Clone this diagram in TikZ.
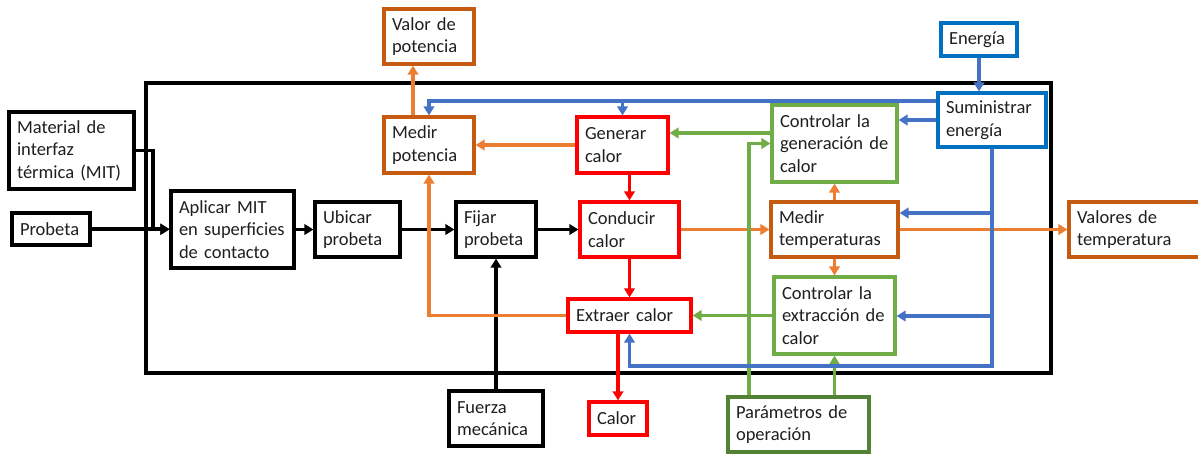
\documentclass[tikz,border=0pt]{standalone}
\usepackage{fontspec}
\setmainfont{Carlito}
\usetikzlibrary{arrows.meta,calc}
\definecolor{cOrL}{HTML}{ED7D31}
\definecolor{cOrB}{HTML}{C55A11}
\definecolor{cGr}{HTML}{70AD47}
\definecolor{cGrD}{HTML}{538135}
\definecolor{cBlL}{HTML}{4472C4}
\definecolor{cBlB}{HTML}{0070C0}
\definecolor{cRd}{HTML}{FF0000}
\tikzset{
  box/.style={draw, line width=3.2pt, fill=white, inner xsep=8pt, inner ysep=0pt,
    align=left, font=\fontsize{18.5}{22.5}\selectfont, text=black!88},
  conn/.style={line width=3.1pt, -{Triangle[length=9pt,width=10.5pt]}},
}
\newcommand{\bx}[6]{%
  \node[box, draw=#2, minimum width=#5, minimum height=#6] (#1) at (#3,#4)}
\begin{document}
\begin{tikzpicture}[x=1pt,y=-1pt]
\useasboundingbox (0,0) rectangle (1198,453);
% frame
\draw[line width=3.6pt] (146,83) rectangle (1051,373);
% nodes
\bx{mit}{black}{71.5}{150.5}{125pt}{77pt}[text width=109pt] {Material de\\interfaz\\térmica (MIT)};
\bx{probeta}{black}{51}{229}{78pt}{32pt}[text width=62pt] {Probeta};
\bx{aplicar}{black}{232.5}{229.5}{123pt}{77pt}[text width=107pt] {Aplicar MIT\\en superficies\\de contacto};
\bx{ubicar}{black}{357.5}{229.5}{85pt}{55pt}[text width=69pt] {Ubicar\\probeta};
\bx{fijar}{black}{496}{229.5}{80pt}{55pt}[text width=64pt] {Fijar\\probeta};
\bx{conducir}{cRd}{629.5}{229.5}{99pt}{55pt}[text width=83pt] {Conducir\\calor};
\bx{medirtemp}{cOrB}{834.5}{229.5}{127pt}{55pt}[text width=111pt] {Medir\\temperaturas};
\bx{valorestemp}{cOrB}{1136}{229.5}{134pt}{55pt}[text width=118pt] {Valores de\\temperatura};
\bx{medirpot}{cOrB}{429}{145}{90pt}{56pt}[text width=74pt] {Medir\\potencia};
\bx{valorpot}{cOrB}{429}{36.5}{90pt}{55pt}[text width=74pt] {Valor de\\potencia};
\bx{generar}{cRd}{622.5}{145}{91pt}{56pt}[text width=75pt] {Generar\\calor};
\bx{ctrlgen}{cGr}{834.5}{143.5}{125pt}{77pt}[text width=109pt] {Controlar la\\generación de\\calor};
\bx{sumin}{cBlB}{992}{120}{108pt}{54pt}[text width=92pt] {Suministrar\\energía};
\bx{energia}{cBlB}{979}{39.5}{76pt}{33pt}[text width=60pt] {Energía};
\bx{extraer}{cRd}{629.5}{315.5}{123pt}{33pt}[text width=107pt] {Extraer calor};
\bx{ctrlext}{cGr}{834.5}{315.5}{121pt}{77pt}[text width=105pt] {Controlar la\\extracción de\\calor};
\bx{calor}{cRd}{618}{418.5}{58pt}{33pt}[text width=42pt] {Calor};
\bx{fuerza}{black}{496}{418.5}{94pt}{55pt}[text width=78pt] {Fuerza\\mecánica};
\bx{param}{cGrD}{798.5}{424.5}{141pt}{55pt}[text width=125pt] {Parámetros de\\operación};
% black connectors
\coordinate (mj) at (153,150.5);
\draw[conn, line width=3.3pt] (mit.east) -- (mj) |- (aplicar.west);
\draw[conn, line width=3.3pt] (probeta.east) -- (probeta.east -| aplicar.west);
\draw[conn, line width=3.3pt] (aplicar.east) -- (ubicar.west);
\draw[conn, line width=3.3pt] (ubicar.east) -- (fijar.west);
\draw[conn, line width=3.3pt] (fijar.east) -- (conducir.west);
\draw[conn, line width=3.3pt] (fuerza.north) -- (fijar.south);
% red
\draw[conn, cRd] (conducir.north |- generar.south) -- (conducir.north);
\draw[conn, cRd] (conducir.south) -- (extraer.north);
\draw[conn, cRd] (calor.north |- extraer.south) -- (calor.north);
% orange
\draw[conn, cOrL] (conducir.east) -- (medirtemp.west);
\draw[conn, cOrL] (medirtemp.east) -- (valorestemp.west);
\draw[conn, cOrL] (medirtemp.north) -- (ctrlgen.south);
\draw[conn, cOrL] (medirtemp.south) -- (ctrlext.north);
\draw[conn, cOrL] (generar.west) -- (medirpot.east);
\draw[conn, cOrL] ([xshift=-16pt]medirpot.north) -- ([xshift=-16pt]valorpot.south);
\draw[conn, cOrL] (extraer.west) -| (medirpot.south);
% green
\draw[conn, cGr] (ctrlext.west) -- (extraer.east);
\draw[conn, cGr] (ctrlgen.west |- 0,133) -- (generar.east |- 0,133);
\draw[conn, cGr] (param.north -| 749,0) |- (ctrlgen.west);
\draw[conn, cGr] (param.north -| ctrlext.south) -- (ctrlext.south);
% blue
\draw[conn, cBlL] (energia.south) -- (energia.south |- sumin.north);
\draw[conn, cBlL] (sumin.west |- 0,101) -| (medirpot.north);
\draw[conn, cBlL] (generar.north |- 0,101) -- (generar.north);
\draw[conn, cBlL] (sumin.west) -- (ctrlgen.east |- sumin.west);
\draw[conn, cBlL] (sumin.south) |- (extraer.south |- 0,366) -- (extraer.south);
\coordinate (b1) at (sumin.south |- 0,213);
\coordinate (b2) at (sumin.south |- 0,316);
\draw[conn, cBlL] (b1) -- (medirtemp.east |- b1);
\draw[conn, cBlL] (b2) -- (ctrlext.east |- b2);
\end{tikzpicture}
\end{document}
